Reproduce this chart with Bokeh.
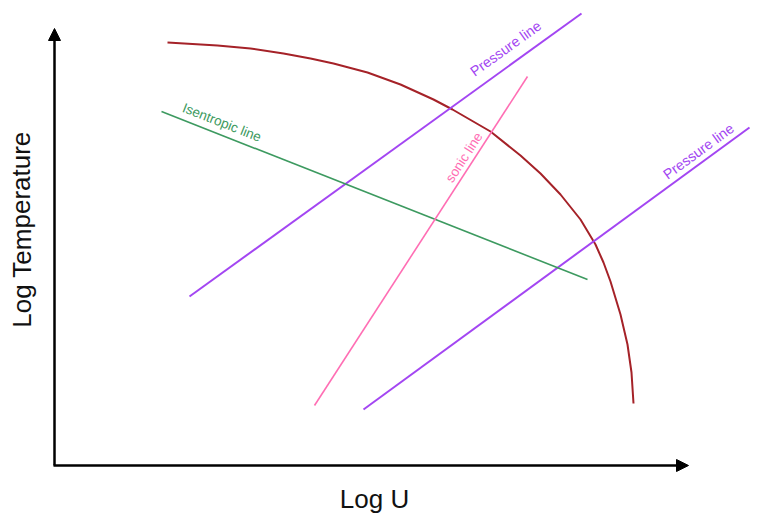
import math
from bokeh.plotting import figure
from bokeh.models import Range1d, Arrow, NormalHead
from bokeh.core.properties import value
from bokeh.embed import file_html
from bokeh.resources import INLINE

# Schematic data (arbitrary "log" units, origin at the axes corner)
arc_x = [113, 163, 196, 229, 256, 279, 313, 346, 379, 398, 436, 466, 486, 506, 526, 541, 549, 556, 566, 573, 577, 579]
arc_y = [423, 420, 417, 412, 407, 402, 393, 381, 366, 356, 334, 310, 292, 271, 246, 221, 203, 184, 151, 121, 93, 62]

pressure1_x = [135, 527]
pressure1_y = [169, 452]
pressure2_x = [309, 695]
pressure2_y = [56, 338]
isentropic_x = [107, 533]
isentropic_y = [354, 186]
sonic_x = [260, 473]
sonic_y = [60, 389]

label_texts = ["Isentropic line", "sonic line", "Pressure line", "Pressure line"]
label_x = [127, 398, 420, 613]
label_y = [354, 282, 389, 286]
label_angle = [-0.375, 0.997, 0.625, 0.631]
label_color = ["#3d9a60", "#ff6eb4", "#a346f2", "#a346f2"]
label_size = ["13.5px", "13.5px", "14.3px", "14.3px"]

x_axis_end = 634
y_axis_end = 437

FONT = value("Liberation Sans")
LIFT = 4.5  # baseline compensation for small labels

p = figure(width=763, height=514, output_backend="svg", toolbar_location=None,
           x_range=Range1d(-54, 709), y_range=Range1d(-49, 465),
           x_axis_location=None, y_axis_location=None, min_border=0)
p.grid.visible = False
p.outline_line_color = None
p.background_fill_color = "white"
p.border_fill_color = "white"

# axes with arrow heads
p.add_layout(Arrow(x_start=0, y_start=0, x_end=0, y_end=y_axis_end, line_width=2.5, line_color="black",
                   end=NormalHead(size=12, fill_color="black", line_color="black", line_width=1)))
p.add_layout(Arrow(x_start=-1, y_start=0, x_end=x_axis_end, y_end=0, line_width=2.5, line_color="black",
                   end=NormalHead(size=12, fill_color="black", line_color="black", line_width=1)))

p.line(arc_x, arc_y, line_color="#a52228", line_width=2)
p.line(pressure1_x, pressure1_y, line_color="#a346f2", line_width=2)
p.line(pressure2_x, pressure2_y, line_color="#a346f2", line_width=2)
p.line(isentropic_x, isentropic_y, line_color="#3d9a60", line_width=1.6)
p.line(sonic_x, sonic_y, line_color="#ff6eb4", line_width=1.6)

for t, x, y, a, c, s in zip(label_texts, label_x, label_y, label_angle, label_color, label_size):
    p.text(x=[x - LIFT * math.sin(a)], y=[y + LIFT * math.cos(a)], text=[t], angle=a,
           text_color=c, text_font=FONT, text_font_size=s,
           text_align="left", text_baseline="alphabetic")

p.text(x=[-33], y=[236], text=["Log Temperature"], angle=1.5708, text_color="#111111",
       text_font=FONT, text_font_size="26px", text_align="center", text_baseline="alphabetic")
p.text(x=[320], y=[-33], text=["Log U"], text_color="#111111",
       text_font=FONT, text_font_size="26px", text_align="center", text_baseline="alphabetic")

open("out.html", "w").write(file_html(p, INLINE))
